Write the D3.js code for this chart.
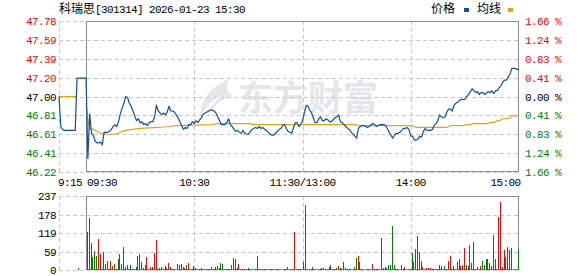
<!DOCTYPE html>
<html><head><meta charset="utf-8">
<script src="https://cdn.jsdelivr.net/npm/d3@7"></script>
<style>
html,body{margin:0;padding:0;background:#fff;}
svg{display:block;}
.m{font-family:"Liberation Mono","DejaVu Sans Mono",monospace;font-size:11px;letter-spacing:-0.6px;}
.cjk{font-family:"Noto Sans CJK SC",sans-serif;font-size:12px;}
</style></head><body><svg id="c" width="578" height="276"></svg>
<script>
// ---------------- data ----------------
const stockName = "科瑞思";
const titleRest = "[301314] 2026-01-23 15:30";
const legendNames = ["价格", "均线"];
const prevClose = 47.00;
const priceTicks = ["47.78","47.59","47.39","47.20","47.00","46.81","46.61","46.41","46.22"];
const pctTicks = ["1.66 %","1.24 %","0.83 %","0.41 %","0.00 %","0.41 %","0.83 %","1.24 %","1.66 %"];
const volTicks = ["237","178","119","59","0"];
const volMax = 237;
const timeLabels = ["9:15","09:30","10:30","11:30/13:00","14:00","15:00"];
const timeLabelMin = [-15, 0, 60, 120, 180, 240];

// pre-market auction (minutes before 9:30)
const preMin   = [-15, -14, -13, -12, -6, -5, 0];
const prePrice = [47.00, 46.69, 46.66, 46.65, 46.65, 47.19, 47.19];
const preAvgMin = [-15, -5];
const preAvg    = [47.00, 47.00];

// per-minute price, minute 0 = 9:30 ... 240 = 15:00
const price = [
47.19,46.36,46.82,46.62,46.60,46.54,46.52,46.52,46.53,46.50,
46.63,46.63,46.63,46.64,46.66,46.69,46.71,46.69,46.74,46.82,
46.88,46.93,47.00,46.99,46.93,46.90,46.85,46.80,46.75,46.77,
46.73,46.74,46.71,46.72,46.70,46.73,46.74,46.74,46.79,46.91,
46.85,46.83,46.81,46.83,46.81,46.84,46.90,46.85,46.85,46.84,
46.81,46.78,46.74,46.70,46.66,46.68,46.67,46.71,46.71,46.74,
46.72,46.75,46.73,46.76,46.78,46.82,46.83,46.84,46.85,46.86,
46.86,46.85,46.83,46.79,46.75,46.71,46.71,46.71,46.73,46.77,
46.71,46.69,46.66,46.64,46.65,46.63,46.62,46.65,46.62,46.61,
46.61,46.64,46.66,46.67,46.68,46.67,46.69,46.67,46.68,46.66,
46.65,46.63,46.61,46.60,46.60,46.62,46.64,46.66,46.67,46.70,
46.71,46.67,46.64,46.63,46.62,46.68,46.73,46.73,46.69,46.71,
46.75,46.83,46.91,46.90,46.86,46.83,46.78,46.73,46.73,46.77,
46.79,46.75,46.75,46.77,46.76,46.74,46.74,46.76,46.78,46.79,
46.81,46.74,46.73,46.71,46.69,46.67,46.66,46.63,46.61,46.59,
46.57,46.67,46.69,46.70,46.70,46.69,46.68,46.69,46.71,46.72,
46.71,46.69,46.70,46.71,46.71,46.71,46.70,46.67,46.63,46.60,
46.57,46.60,46.62,46.62,46.63,46.65,46.67,46.67,46.68,46.66,
46.59,46.59,46.55,46.55,46.56,46.59,46.58,46.64,46.67,46.65,
46.65,46.65,46.66,46.70,46.72,46.75,46.81,46.79,46.78,46.79,
46.84,46.87,46.87,46.85,46.91,46.93,46.94,46.96,46.97,46.97,
46.97,47.00,47.02,47.05,47.08,47.06,47.04,47.05,47.02,47.04,
47.04,47.02,47.04,47.05,47.04,47.06,47.03,47.06,47.06,47.09,
47.11,47.15,47.17,47.17,47.20,47.23,47.29,47.29,47.29,47.28,
47.28];

// average price line (minute, value)
const avgMin = [0,1,2,4,6,8,10,16,18,20,22,26,30,40,46,50,70,72,91,93,149,151,181,183,200,202,209,211,213,215,222,224,226,228,229,231,233,235,236,240];
const avgVal = [46.93,46.76,46.67,46.66,46.64,46.62,46.61,46.61,46.62,46.64,46.65,46.66,46.67,46.68,46.69,46.70,46.71,46.72,46.72,46.71,46.71,46.70,46.70,46.68,46.68,46.70,46.70,46.71,46.71,46.72,46.72,46.73,46.73,46.75,46.75,46.77,46.77,46.78,46.80,46.80];

// volume bars: minute, value, up(1=red)/down(0=green)
const volMin = [-4,1,2,3,4,5,6,7,8,9,10,11,12,13,14,15,16,17,18,19,20,21,22,23,24,25,26,27,28,29,30,31,32,33,34,35,36,37,38,39,40,41,42,43,44,45,46,47,48,49,51,52,53,54,55,56,57,58,59,60,61,62,63,64,65,66,67,68,69,70,71,72,73,74,75,76,77,78,79,80,81,82,83,84,85,86,87,88,89,90,91,93,94,95,96,97,98,99,100,101,103,104,106,107,110,111,112,113,115,116,117,118,119,121,122,124,125,126,127,130,131,132,133,135,136,137,138,139,140,141,142,143,144,145,146,147,149,150,151,152,153,156,157,159,160,161,162,163,164,165,166,167,168,169,170,171,172,173,175,176,177,179,180,181,182,183,184,185,186,187,189,190,191,192,193,194,195,196,197,198,199,200,201,202,203,204,205,206,207,208,209,210,211,212,213,214,215,216,217,219,220,221,222,223,224,225,226,227,228,229,230,231,232,233,234,235,236,240];
const volVal = [6,122,167,87,42,60,45,100,51,4,58,19,29,4,29,13,19,4,35,51,19,74,10,16,4,16,4,4,10,45,51,26,6,16,42,4,10,10,55,96,4,6,10,4,13,6,22,10,3,3,19,16,19,10,6,16,22,3,3,13,6,3,3,6,3,3,3,3,3,10,3,10,13,6,22,19,3,3,3,3,16,38,35,6,19,3,3,3,3,6,3,3,3,45,3,3,3,3,3,3,3,3,3,3,3,3,10,3,3,122,3,3,3,26,209,3,3,10,3,3,6,6,3,10,16,3,3,6,13,6,3,26,6,3,3,3,10,38,45,26,3,3,3,19,3,3,3,3,103,6,10,6,16,16,142,16,3,3,16,3,10,3,3,55,26,67,109,58,29,10,6,6,6,3,3,3,3,16,13,3,13,3,29,45,3,13,3,26,35,13,16,70,16,13,80,22,90,3,10,13,29,16,35,35,22,13,112,35,3,169,218,10,64,42,74,64,72,67];
const volUp  = [1,0,1,0,0,0,0,1,1,0,1,1,1,0,1,0,1,0,0,1,0,1,1,1,0,0,0,0,0,1,0,0,1,0,1,0,1,1,1,1,0,0,0,0,1,0,1,1,0,1,0,0,0,0,1,0,1,1,0,0,0,1,0,1,1,1,1,1,1,1,0,0,0,1,0,0,0,1,1,0,0,0,0,0,1,0,0,0,1,0,0,1,1,0,1,1,0,0,0,0,1,0,1,1,1,1,0,0,0,1,0,0,0,1,1,0,0,0,0,1,1,0,1,0,0,1,1,0,1,0,1,0,1,0,0,0,0,0,1,1,0,0,1,1,0,1,0,1,0,0,1,0,0,0,0,0,0,0,1,0,1,0,0,0,1,0,1,1,0,1,1,1,1,1,1,1,1,1,1,0,0,1,1,1,0,1,0,1,1,1,1,1,0,1,1,1,0,1,1,1,0,0,0,1,1,1,0,1,0,1,1,1,1,1,1,1,1,0];

// ---------------- drawing ----------------
const RED = "#ff0000", GREEN = "#008000", BLUE = "#0f4fa3", GOLD = "#e2a21c";
const GRID = "#c8c8c8", FRAME = "#8e8e8e";
const svg = d3.select("#c");

const x = d3.scaleLinear().domain([-15, 240]).range([59, 519]);
const y = d3.scaleLinear().domain([prevClose - 0.78, prevClose + 0.78]).range([172, 21]);
const yv = d3.scaleLinear().domain([0, volMax]).range([270, 196]);
const xOpen = x(0), xEnd = x(240), xStart = x(-15);

// watermark
const wm = svg.append("g").attr("fill", "#e6e6ea");
wm.append("path").attr("d", "M229,79 C212,86 199,100 201,117 C205,106 213,99 224,95 C214,101 209,108 208,116 C214,104 222,99 233,96 C226,92 226,85 229,79 Z");
wm.append("text").attr("x", 238).attr("y", 111)
  .style("font-family", '"Noto Sans CJK SC",sans-serif').style("font-weight", "bold")
  .style("font-size", "35px").style("letter-spacing", "0px").text("东方财富");

// grids
function hDash(g, yy) {
  g.append("line").attr("x1", xStart).attr("x2", xEnd).attr("y1", Math.round(yy) + 0.5).attr("y2", Math.round(yy) + 0.5)
    .attr("stroke", GRID).attr("stroke-dasharray", "4,3").attr("shape-rendering", "crispEdges");
}
function vDash(g, xx, y1, y2) {
  g.append("line").attr("x1", Math.round(xx) + 0.5).attr("x2", Math.round(xx) + 0.5).attr("y1", y1).attr("y2", y2)
    .attr("stroke", GRID).attr("stroke-dasharray", "4,3").attr("shape-rendering", "crispEdges");
}
const grid = svg.append("g");
const lo = prevClose - 0.78, hi = prevClose + 0.78;
const pTickPos = priceTicks.map((t, k) => y(hi - k * (hi - lo) / 8));
pTickPos.forEach(p => hDash(grid, p));
const vTickPos = volTicks.map((t, k) => yv(volMax - k * volMax / 4));
vTickPos.forEach(p => hDash(grid, p));
[-15, 60, 120, 180].forEach(m => { vDash(grid, x(m), 21, 172); vDash(grid, x(m), 196, 270); });

// frames
function frame(t, b) {
  const l = Math.round(xOpen) + 0.5, r = Math.round(xEnd) - 0.5;
  svg.append("path").attr("d", `M${l},${t + 0.5}H${r}V${b + 0.5}H${l}Z`)
    .attr("fill", "none").attr("stroke", FRAME).attr("shape-rendering", "crispEdges");
}
frame(21, 171);
frame(196, 269);

// left price labels
const labG = svg.append("g").attr("class", "m");
priceTicks.forEach((t, k) => {
  labG.append("text").attr("x", 56).attr("y", pTickPos[k] + 4).attr("text-anchor", "end")
    .attr("fill", k < 4 ? RED : (k === 4 ? "#000" : GREEN)).text(t);
});
pctTicks.forEach((t, k) => {
  labG.append("text").attr("x", 525).attr("y", pTickPos[k] + 4)
    .attr("fill", k < 4 ? RED : (k === 4 ? "#000" : GREEN)).text(t);
});
volTicks.forEach((t, k) => {
  labG.append("text").attr("x", 56).attr("y", vTickPos[k] + 4).attr("text-anchor", "end")
    .attr("fill", "#000").text(t);
});
timeLabels.forEach((t, k) => {
  const m = timeLabelMin[k];
  let anchor = "middle", xx = x(m);
  if (k === 0) { anchor = "start"; xx = x(m) - 1; }
  else if (k === 1) { anchor = "start"; xx = x(m) + 1; }
  else if (k === timeLabels.length - 1) { anchor = "end"; xx = x(m) + 1.5; }
  labG.append("text").attr("x", xx).attr("y", 186).attr("text-anchor", anchor).attr("fill", "#000").text(t);
});

// title
const title = svg.append("text").attr("x", 59).attr("y", 13).attr("fill", "#000");
title.append("tspan").attr("class", "cjk").text(stockName);
title.append("tspan").attr("class", "m").text(titleRest);

// legend
svg.append("text").attr("class", "cjk").attr("x", 431).attr("y", 13).attr("fill", "#000").text(legendNames[0]);
svg.append("rect").attr("x", 464).attr("y", 8).attr("width", 5).attr("height", 4).attr("fill", BLUE);
svg.append("text").attr("class", "cjk").attr("x", 477).attr("y", 13).attr("fill", "#000").text(legendNames[1]);
svg.append("rect").attr("x", 508).attr("y", 8).attr("width", 5).attr("height", 4).attr("fill", GOLD);

// volume bars
const bars = svg.append("g").attr("shape-rendering", "crispEdges");
volMin.forEach((m, k) => {
  const top = yv(volVal[k]);
  bars.append("rect").attr("x", Math.round(x(m) - 0.9)).attr("y", top)
    .attr("width", 1).attr("height", yv(0) - top)
    .attr("fill", volUp[k] ? RED : GREEN);
});

// lines
const line = d3.line().x(d => x(d[0])).y(d => y(d[1]));
const avgPts = avgMin.map((m, k) => [m, avgVal[k]]);
const preAvgPts = preAvgMin.map((m, k) => [m, preAvg[k]]);
svg.append("path").attr("d", line(preAvgPts)).attr("fill", "none").attr("stroke", GOLD).attr("stroke-width", 1.2);
svg.append("path").attr("d", line(avgPts)).attr("fill", "none").attr("stroke", GOLD).attr("stroke-width", 1.2);
const pricePts = preMin.map((m, k) => [m, prePrice[k]]).concat(price.map((p, i) => [i, p]).slice(1));
svg.append("path").attr("d", line(pricePts)).attr("fill", "none").attr("stroke", BLUE).attr("stroke-width", 1.2)
  .attr("stroke-linejoin", "round");
</script></body></html>
